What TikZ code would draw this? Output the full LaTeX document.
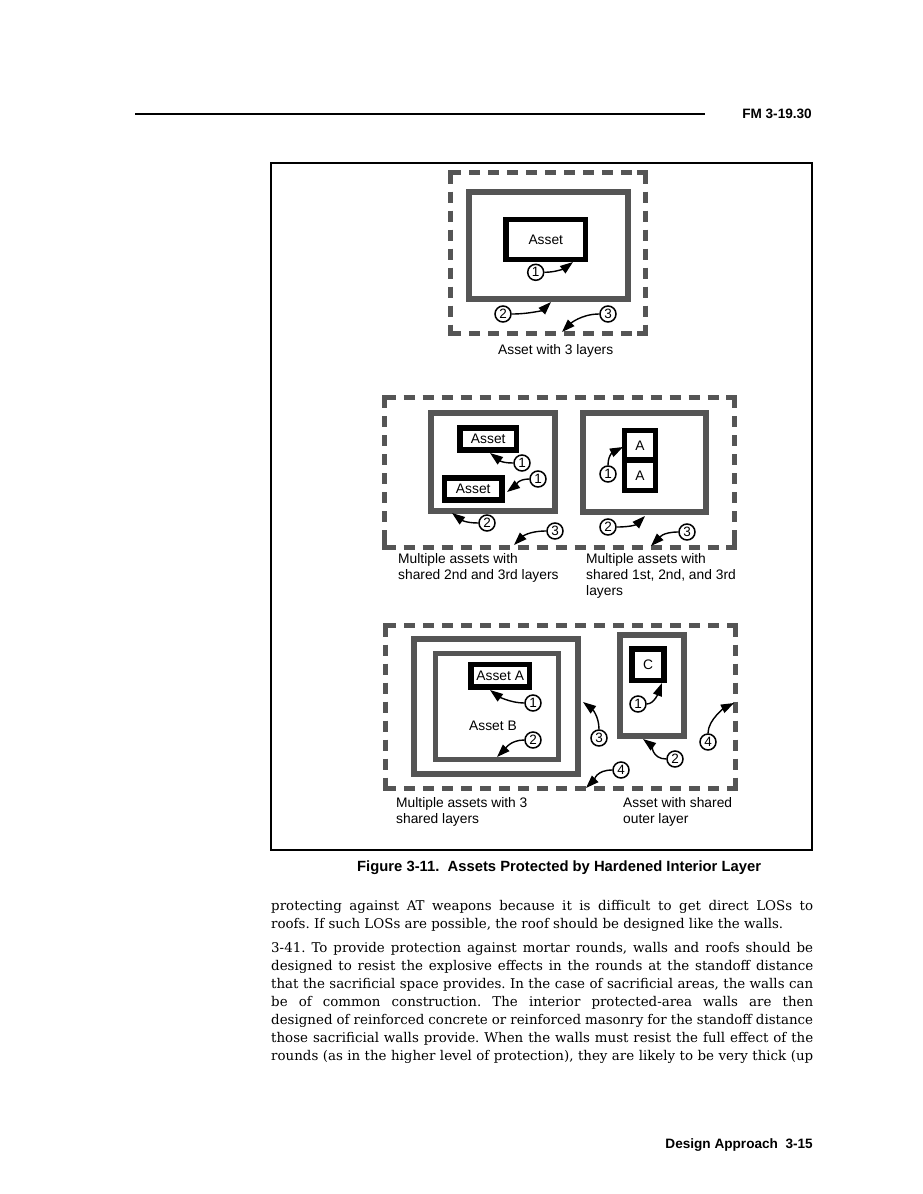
\documentclass[tikz,border=0pt]{standalone}
\usepackage{fontspec}
\setmainfont{DejaVu Serif}
\newfontfamily\lsans{Liberation Sans}
\usetikzlibrary{arrows.meta}
\definecolor{wallgray}{HTML}{555555}
\definecolor{dashgray}{HTML}{555555}
\newcommand\dashframe[1]{%
  \draw[dashline] (#1.north west) -- (#1.north east);
  \draw[dashline] (#1.north east) -- (#1.south east);
  \draw[dashline] (#1.south west) -- (#1.south east);
  \draw[dashline] (#1.north west) -- (#1.south west);
  \draw[dashcorner] (#1.north west) ++(0,8) -- ++(0,-8) -- ++(8,0);
  \draw[dashcorner] (#1.north east) ++(-8,0) -- ++(8,0) -- ++(0,8);
  \draw[dashcorner] (#1.south east) ++(0,-8) -- ++(0,8) -- ++(-8,0);
  \draw[dashcorner] (#1.south west) ++(8,0) -- ++(-8,0) -- ++(0,-8);
}
\begin{document}
\begin{tikzpicture}[x=1pt,y=-1pt,
  wall/.style={draw=wallgray, line width=6pt, rectangle, inner sep=0pt, outer sep=0pt},
  dashbox/.style={draw=none, rectangle, inner sep=0pt, outer sep=0pt},
  dashline/.style={draw=dashgray, line width=5pt, dash pattern=on 11pt off 8pt},
  dashcorner/.style={draw=dashgray, line width=5pt, line join=miter},
  assetbox/.style={draw=black, line width=5.5pt, rectangle, inner sep=0pt, outer sep=0pt, font=\lsans\fontsize{13.8}{16}\selectfont},
  num/.style={circle, draw=black, line width=1.5pt, minimum size=16pt, inner sep=0pt, fill=white, font=\lsans\fontsize{13.5}{13.5}\selectfont},
  ptr/.style={line width=1.4pt, -{Triangle[length=13pt,width=9pt]}},
  lbl/.style={anchor=base west, inner sep=0pt, font=\lsans\fontsize{13.8}{16}\selectfont},
  plain/.style={inner sep=0pt, font=\lsans\fontsize{13.8}{16}\selectfont},
  body/.style={anchor=base west, inner sep=0pt, font=\fontsize{13.4}{18}\selectfont\frenchspacing},
  head/.style={inner sep=0pt, font=\lsans\bfseries\fontsize{13.6}{16}\selectfont},
]
\fill[white] (0,0) rectangle (923,1194);
\useasboundingbox (0,0) rectangle (923,1194);

% header
\draw[line width=2pt] (135,114) -- (705,114);
\node[head, anchor=base east] (hdr) at (812,118.3) {FM 3-19.30};

% figure frame
\node[draw=black, line width=1.2pt, rectangle, inner sep=0pt, outer sep=0pt,
      minimum width=541pt, minimum height=687pt] (frame) at (541.5,506.5) {};

% ---------- top: asset with 3 layers ----------
\node[dashbox, minimum width=195pt, minimum height=161pt] (D1) at (547.5,253) {};
\dashframe{D1}
\node[wall, minimum width=159.5pt, minimum height=107pt] (W1) at (548.25,245.5) {};
\node[assetbox, minimum width=79.5pt, minimum height=40pt] (A1) at (545.75,239.5) {Asset};
\node[num] (n11) at (535.7,272.3) {1};
\node[num] (n12) at (503,314) {2};
\node[num] (n13) at (608,314) {3};
\coordinate (t11) at (573,262);
\coordinate (t12) at (551,302);
\coordinate (t13) at (562,332);
\draw[ptr] (n11.east) .. controls +(12,0) and +(-8,6) .. (t11);
\draw[ptr] (n12.east) .. controls +(18,0) and +(-8,8) .. (t12);
\draw[ptr] (n13.west) .. controls +(-18,0) and +(8,-8) .. (t13);
\node[lbl] (L1) at (498,354) {Asset with 3 layers};

% ---------- middle ----------
\node[dashbox, minimum width=349.5pt, minimum height=150pt] (D2) at (559.25,472) {};
\dashframe{D2}
% left group
\node[wall, minimum width=124pt, minimum height=98pt] (W2) at (493,462) {};
\node[assetbox, minimum width=56.5pt, minimum height=22pt] (A21) at (488.25,439) {Asset};
\node[assetbox, minimum width=57.5pt, minimum height=22pt] (A22) at (473.25,489) {Asset};
\node[num] (n21) at (522,463) {1};
\node[num] (n22) at (538,479) {1};
\node[num] (n23) at (487,523) {2};
\node[num] (n24) at (555,531) {3};
\coordinate (t21) at (490,453);
\coordinate (t22) at (507,492);
\coordinate (t23) at (452,513);
\coordinate (t24) at (514,545);
\draw[ptr] (n21.west) .. controls +(-14,0) and +(8,6) .. (t21);
\draw[ptr] (n22.west) .. controls +(-12,0) and +(8,-6) .. (t22);
\draw[ptr] (n23.west) .. controls +(-14,0) and +(8,6) .. (t23);
\draw[ptr] (n24.west) .. controls +(-18,0) and +(8,-8) .. (t24);
\node[lbl] (L21) at (398,563) {Multiple assets with};
\node[lbl] (L22) at (398,579) {shared 2nd and 3rd layers};
% right group
\node[wall, minimum width=123pt, minimum height=99pt] (W3) at (644.5,462.5) {};
\node[assetbox, minimum width=31pt, minimum height=29.5pt] (A31) at (640,445.25) {A};
\node[assetbox, minimum width=31pt, minimum height=30.5pt] (A32) at (640,475.25) {A};
\node[num] (n31) at (608,474) {1};
\node[num] (n32) at (608,527) {2};
\node[num] (n33) at (687,532) {3};
\coordinate (t31) at (623,447);
\coordinate (t32) at (645,516);
\coordinate (t33) at (651,546);
\draw[ptr] (n31.north) .. controls +(0,-12) and +(-8,4) .. (t31);
\draw[ptr] (n32.east) .. controls +(16,0) and +(-8,8) .. (t32);
\draw[ptr] (n33.west) .. controls +(-16,0) and +(8,-8) .. (t33);
\node[lbl] (L31) at (586,563) {Multiple assets with};
\node[lbl] (L32) at (586,579) {shared 1st, 2nd, and 3rd};
\node[lbl] (L33) at (586,595) {layers};

% ---------- bottom ----------
\node[dashbox, minimum width=350.5pt, minimum height=163pt] (D3) at (560.25,707) {};
\dashframe{D3}
\node[wall, minimum width=164pt, minimum height=135pt] (W41) at (496,706.5) {};
\node[wall, line width=5pt, minimum width=123pt, minimum height=106pt] (W42) at (497,706.5) {};
\node[assetbox, minimum width=58.5pt, minimum height=22.5pt] (A41) at (500.25,675.75) {Asset A};
\node[plain] (AB) at (493,726) {Asset B};
\node[num] (n41) at (533,703) {1};
\node[num] (n42) at (533,740) {2};
\node[num] (n43) at (599,738) {3};
\node[num] (n44) at (621,770) {4};
\coordinate (t41) at (490,690);
\coordinate (t42) at (497,757);
\coordinate (t43) at (583,702);
\coordinate (t44) at (586,788);
\draw[ptr] (n41.west) .. controls +(-14,0) and +(8,6) .. (t41);
\draw[ptr] (n42.west) .. controls +(-14,0) and +(8,-8) .. (t42);
\draw[ptr] (n43.north) .. controls +(0,-14) and +(8,6) .. (t43);
\draw[ptr] (n44.west) .. controls +(-16,0) and +(8,-8) .. (t44);
\node[wall, minimum width=64pt, minimum height=101pt] (W43) at (652,685.5) {};
\node[assetbox, minimum width=32pt, minimum height=31.5pt] (A42) at (648,664.75) {C};
\node[num] (n45) at (638,704) {1};
\node[num] (n46) at (675,759) {2};
\node[num] (n47) at (708,742) {4};
\coordinate (t45) at (662,683);
\coordinate (t46) at (643,739);
\coordinate (t47) at (734,703);
\draw[ptr] (n45.east) .. controls +(8,0) and +(-3,8) .. (t45);
\draw[ptr] (n46.west) .. controls +(-14,0) and +(8,6) .. (t46);
\draw[ptr] (n47.north) .. controls +(0,-14) and +(-8,4) .. (t47);
\node[lbl] (L41) at (396,807) {Multiple assets with 3};
\node[lbl] (L42) at (396,823) {shared layers};
\node[lbl] (L43) at (623,807) {Asset with shared};
\node[lbl] (L44) at (623,823) {outer layer};

% caption
\node[head, anchor=base west, font=\lsans\bfseries\fontsize{14.8}{17}\selectfont] (cap) at (357,871)
  {Figure 3-11.\ \ Assets Protected by Hardened Interior Layer};

% body text
\node[body] (b1) at (271,910) {\makebox[542pt][s]{protecting against AT weapons because it is difficult to get direct LOSs to}};
\node[body] (b2) at (271,928) {roofs. If such LOSs are possible, the roof should be designed like the walls.};
\node[body] (b3) at (271,952.5) {\makebox[542pt][s]{3-41. To provide protection against mortar rounds, walls and roofs should be}};
\node[body] (b4) at (271,970.5) {\makebox[542pt][s]{designed to resist the explosive effects in the rounds at the standoff distance}};
\node[body] (b5) at (271,988.5) {\makebox[542pt][s]{that the sacrificial space provides. In the case of sacrificial areas, the walls can}};
\node[body] (b6) at (271,1006.5) {\makebox[542pt][s]{be of common construction. The interior protected-area walls are then}};
\node[body] (b7) at (271,1024.5) {\makebox[542pt][s]{designed of reinforced concrete or reinforced masonry for the standoff distance}};
\node[body] (b8) at (271,1042.5) {\makebox[542pt][s]{those sacrificial walls provide. When the walls must resist the full effect of the}};
\node[body] (b9) at (271,1060.5) {\makebox[542pt][s]{rounds (as in the higher level of protection), they are likely to be very thick (up}};

% footer
\node[head, anchor=base east] (ftr) at (813,1148) {Design Approach\ \ 3-15};
\end{tikzpicture}
\end{document}
